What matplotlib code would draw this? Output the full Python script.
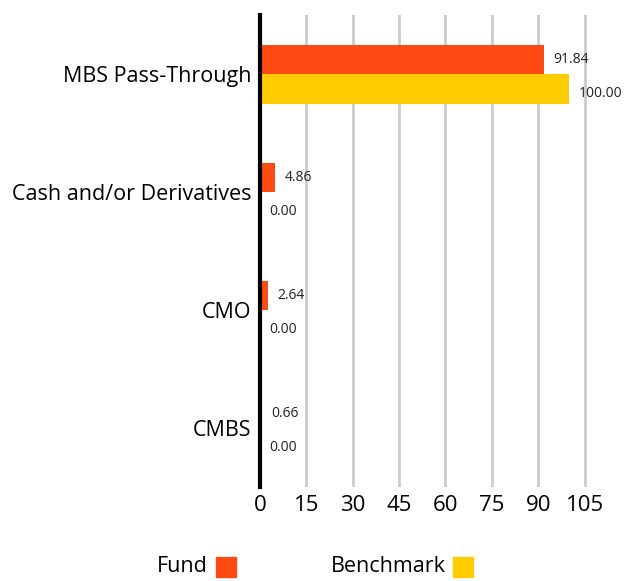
import numpy as np
import matplotlib.pyplot as plt
from matplotlib.patches import Rectangle

categories = ["MBS Pass-Through", "Cash and/or Derivatives", "CMO", "CMBS"]
fund = [91.84, 4.86, 2.64, 0.66]
benchmark = [100.00, 0.00, 0.00, 0.00]
xticks = [0, 15, 30, 45, 60, 75, 90, 105]

FUND_COLOR = "#FF4A14"
BENCH_COLOR = "#FFCC00"

plt.rcParams["font.family"] = ["Open Sans", "DejaVu Sans"]

fig = plt.figure(figsize=(6.26, 5.81), dpi=100)
ax = fig.add_axes([260 / 626, 1 - 487 / 581, 340 / 626, 472 / 581])

y = np.arange(len(categories))
h = 0.25
ax.barh(y - h / 2, fund, height=h, color=FUND_COLOR, zorder=3)
ax.barh(y + h / 2, benchmark, height=h, color=BENCH_COLOR, zorder=3)

for i in range(len(categories)):
    ax.text(fund[i] + 3, y[i] - h / 2, f"{fund[i]:.2f}", va="center", ha="left",
            fontsize=10, color="#222222")
    ax.text(benchmark[i] + 3, y[i] + h / 2 + 0.04, f"{benchmark[i]:.2f}", va="center",
            ha="left", fontsize=10, color="#222222")

ax.set_ylim(len(categories) - 0.5, -0.5)
ax.set_xlim(0, 110)
ax.set_yticks(y)
ax.set_yticklabels(categories, fontsize=15.5)
ax.set_xticks(xticks)
ax.set_xticklabels([str(t) for t in xticks], fontsize=16)
ax.tick_params(axis="both", length=0, pad=6)
ax.tick_params(axis="x", pad=6)

ax.grid(axis="x", color="#cccccc", linewidth=2, zorder=0)
for s in ["top", "right", "bottom"]:
    ax.spines[s].set_visible(False)
ax.spines["left"].set_linewidth(3)
ax.spines["left"].set_color("black")
ax.spines["left"].set_zorder(4)

# legend
fig.text(157 / 626, 1 - 567 / 581, "Fund", fontsize=15.5, va="center", ha="left")
fig.patches.append(Rectangle((216 / 626, 1 - 577 / 581), 20 / 626, 20 / 581,
                             transform=fig.transFigure, color=FUND_COLOR))
fig.text(331 / 626, 1 - 567 / 581, "Benchmark", fontsize=15.5, va="center", ha="left")
fig.patches.append(Rectangle((453 / 626, 1 - 577 / 581), 20 / 626, 20 / 581,
                             transform=fig.transFigure, color=BENCH_COLOR))

fig.savefig("out.png", dpi=100)
